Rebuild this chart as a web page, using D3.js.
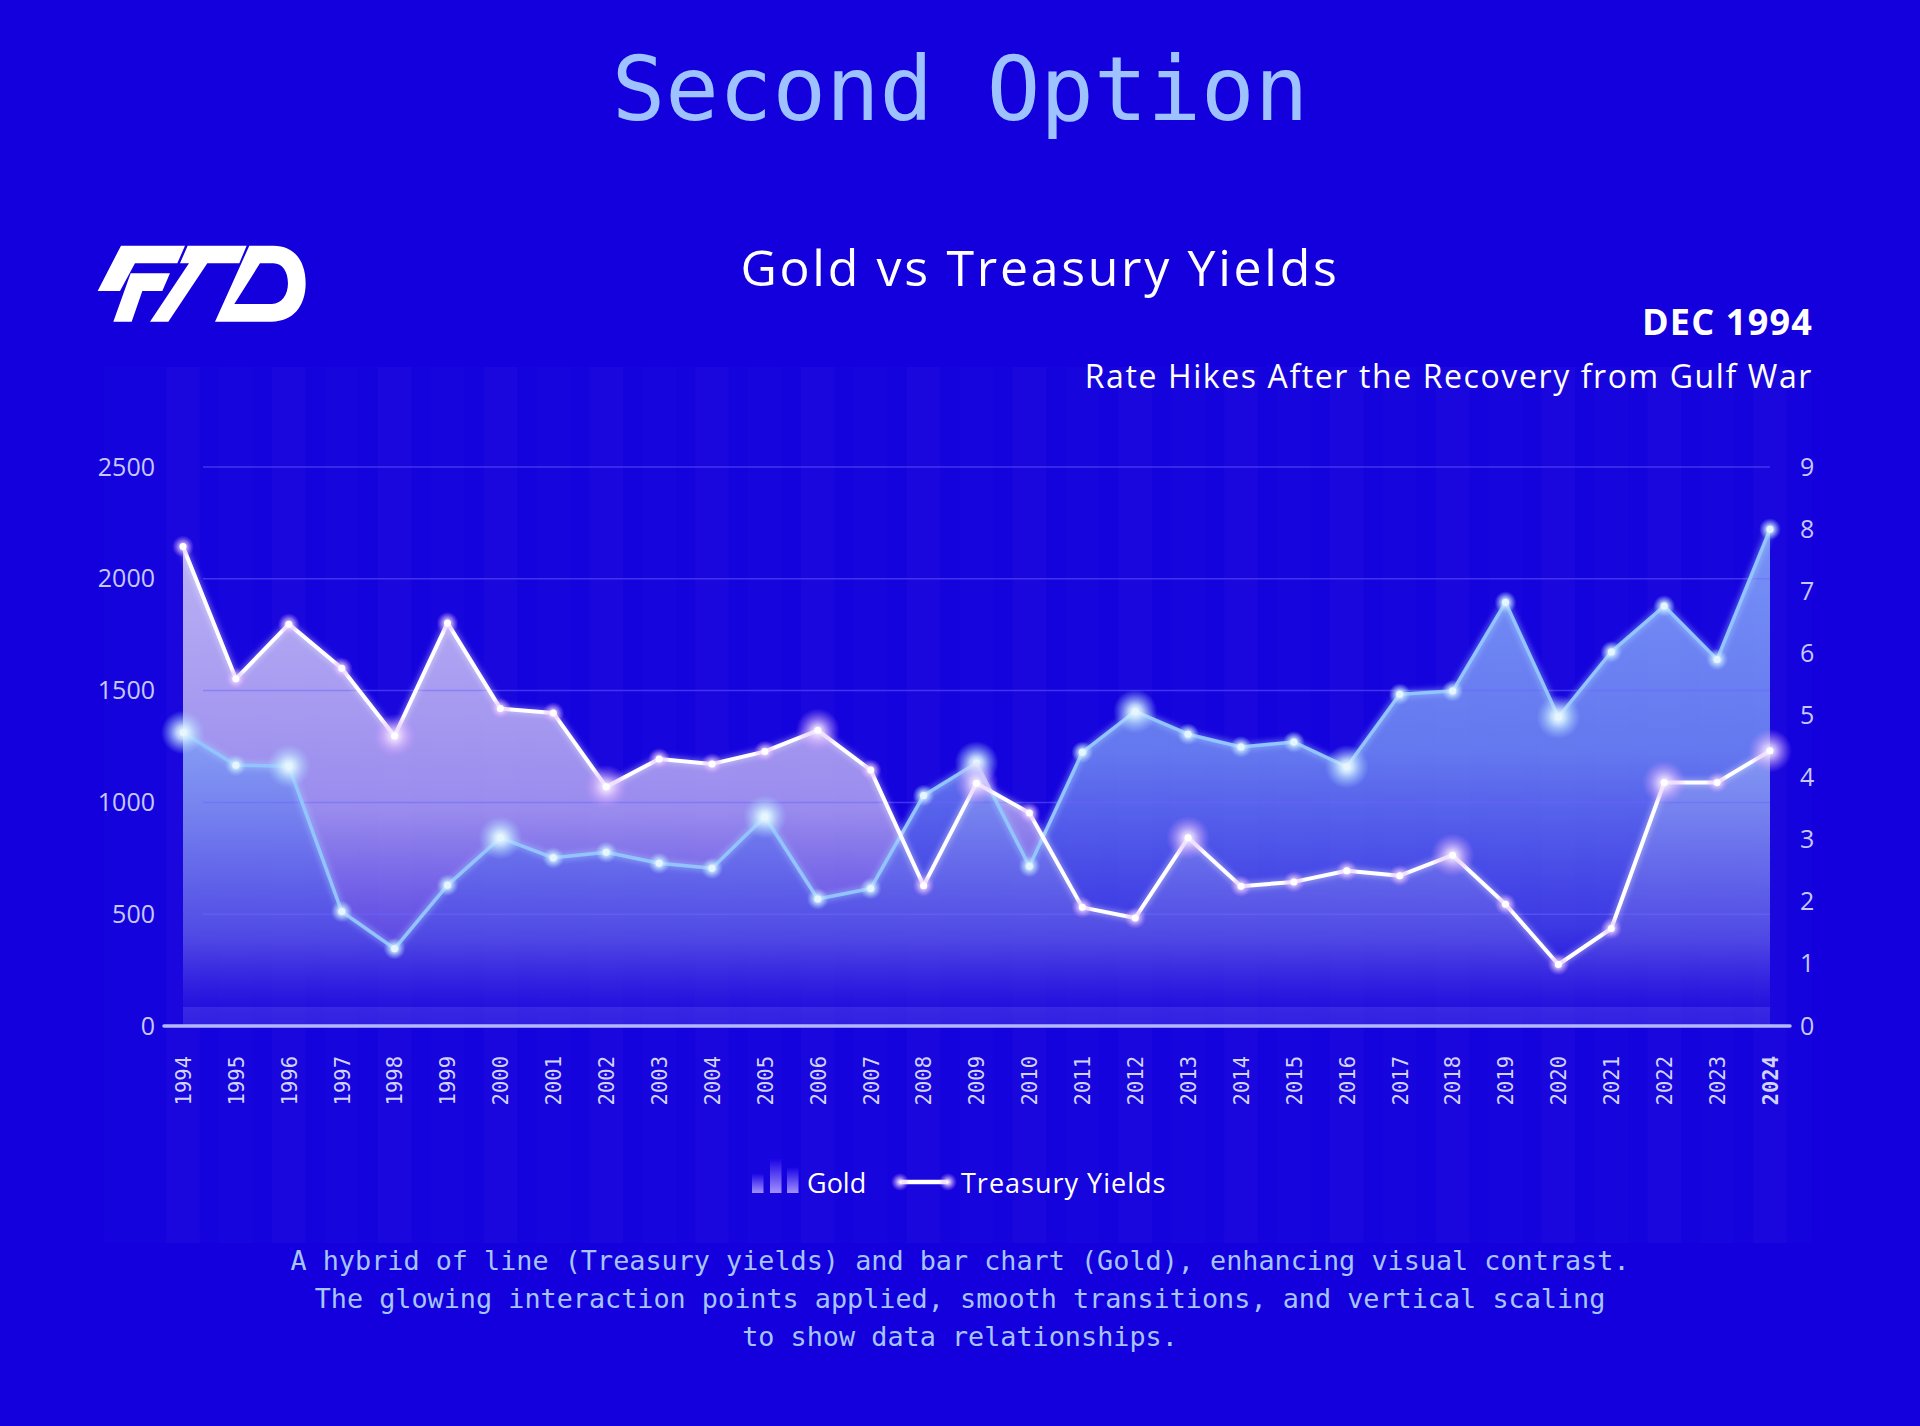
<!DOCTYPE html>
<html>
<head>
<meta charset="utf-8">
<script src="https://cdnjs.cloudflare.com/ajax/libs/d3/7.8.5/d3.min.js"></script>
<style>
  html, body { margin: 0; padding: 0; background: #1300dd; }
  svg { display: block; }
</style>
</head>
<body>
<div id="chart"></div>
<script>
// chart data
var years = d3.range(1994, 2025);
var gold = [1313, 1166, 1162, 512, 346, 630, 842, 752, 777, 728, 705, 936, 568, 615, 1031,
            1176, 714, 1224, 1407, 1305, 1248, 1270, 1159, 1484, 1498, 1895, 1382, 1673, 1878, 1639, 2222];
var yields = [7.72, 5.59, 6.47, 5.76, 4.67, 6.49, 5.11, 5.04, 3.85, 4.30, 4.22, 4.42, 4.76, 4.12, 2.26,
              3.91, 3.43, 1.91, 1.74, 3.03, 2.25, 2.32, 2.50, 2.42, 2.75, 1.96, 0.99, 1.57, 3.92, 3.92, 4.43];
var goldTicks = [0, 500, 1000, 1500, 2000, 2500];
var yieldTicks = [0, 1, 2, 3, 4, 5, 6, 7, 8, 9];
// points that carry the bigger glow
var goldHighlights = [1994, 1996, 2000, 2005, 2009, 2012, 2016, 2020];
var yieldHighlights = [1998, 2002, 2006, 2009, 2013, 2018, 2022, 2024];

var W = 1920, H = 1426;
var svg = d3.select("#chart").append("svg")
  .attr("width", W).attr("height", H);

var defs = svg.append("defs");

function linGrad(id, stops) {
  var g = defs.append("linearGradient").attr("id", id)
    .attr("x1", 0).attr("y1", 0).attr("x2", 0).attr("y2", 1);
  stops.forEach(function(s) {
    g.append("stop").attr("offset", s[0]).attr("stop-color", s[1]).attr("stop-opacity", s[2]);
  });
}
function radGrad(id, stops) {
  var g = defs.append("radialGradient").attr("id", id);
  stops.forEach(function(s) {
    g.append("stop").attr("offset", s[0]).attr("stop-color", s[1]).attr("stop-opacity", s[2]);
  });
}
linGrad("yieldFill", [["0%", "#c8c0f6", 0.92], ["55%", "#ab9ef0", 0.88], ["82%", "#7c68e6", 0.7], ["100%", "#2a12e0", 0.15]]);
linGrad("goldFill", [["0%", "#8cb0fc", 0.82], ["45%", "#7a98f4", 0.78], ["80%", "#4c4ee6", 0.7], ["100%", "#1e08dc", 0.3]]);
linGrad("legendBar", [["0%", "#1600e4", 1], ["100%", "#a290ff", 1]]);
radGrad("glowGold", [["0%", "#ffffff", 1], ["30%", "#d4f0ff", 0.85], ["100%", "#9ccaff", 0]]);
radGrad("glowYield", [["0%", "#ffffff", 1], ["30%", "#eed8ff", 0.75], ["100%", "#c88cff", 0]]);

var blur = defs.append("filter").attr("id", "soft").attr("x", "-20%").attr("y", "-20%")
  .attr("width", "140%").attr("height", "140%");
blur.append("feGaussianBlur").attr("stdDeviation", 2.5);

// scales
var x = d3.scalePoint().domain(years).range([183, 1770]);
var yGold = d3.scaleLinear().domain([0, 2500]).range([1026, 467]);
var yYield = d3.scaleLinear().domain([0, 9]).range([1026, 467]);
var step = x.step();

// background panel and faint year columns
svg.append("rect").attr("x", 104).attr("y", 367).attr("width", 1708).attr("height", 876)
  .attr("fill", "#ffffff").attr("opacity", 0.012);
svg.append("g").selectAll("rect").data(years).enter().append("rect")
  .attr("x", function(d) { return x(d) - step * 0.32; })
  .attr("y", 367)
  .attr("width", step * 0.64)
  .attr("height", 876)
  .attr("fill", "#ffffff")
  .attr("opacity", function(d, i) { return i % 2 ? 0.01 : 0.02; });

// title block
svg.append("text").attr("x", 960).attr("y", 120).attr("text-anchor", "middle")
  .style("font-family", "'DejaVu Sans Mono', monospace").style("font-size", "89px")
  .attr("fill", "#9ec2ff").text("Second Option");

svg.append("text").attr("x", 1040).attr("y", 286).attr("text-anchor", "middle")
  .style("font-family", "'Open Sans', sans-serif").style("font-size", "50px")
  .style("letter-spacing", "2.7px")
  .attr("fill", "#ffffff").text("Gold vs Treasury Yields");

svg.append("text").attr("x", 1813).attr("y", 335).attr("text-anchor", "end")
  .style("font-family", "'Open Sans', sans-serif").style("font-size", "36px").style("font-weight", 700)
  .style("letter-spacing", "1.2px")
  .attr("fill", "#ffffff").text("DEC 1994");

svg.append("text").attr("x", 1813).attr("y", 388).attr("text-anchor", "end")
  .style("font-family", "'Open Sans', sans-serif").style("font-size", "32px")
  .style("letter-spacing", "1.6px")
  .attr("fill", "#ffffff").text("Rate Hikes After the Recovery from Gulf War");

// logo
var logo = svg.append("g").attr("transform", "translate(60,220) scale(0.3333)").attr("fill", "#ffffff");
logo.append("path").attr("d", "M183,77 L375,77 L352,130 L225,130 L180,213 L113,213 Z");
logo.append("path").attr("d", "M212,160 L330,160 L307,213 L247,213 L215,305 L160,305 Z");
logo.append("path").attr("d", "M383,77 L560,77 L538,130 L442,130 L325,305 L270,305 L387,130 L360,130 Z");
logo.append("path").attr("fill-rule", "evenodd")
  .attr("d", "M568,77 L640,77 C705,77 737,125 737,190 C737,258 700,305 635,305 L465,305 Z " +
             "M600,130 L640,130 C668,130 684,156 684,190 C684,226 664,252 636,252 L523,252 Z");

// areas
var plot = svg.append("g");
plot.append("path").datum(yields)
  .attr("fill", "url(#yieldFill)")
  .attr("d", d3.area()
    .x(function(d, i) { return x(years[i]); })
    .y0(yYield(0)).y1(function(d) { return yYield(d); }));
plot.append("path").datum(gold)
  .attr("fill", "url(#goldFill)")
  .attr("d", d3.area()
    .x(function(d, i) { return x(years[i]); })
    .y0(yGold(0)).y1(function(d) { return yGold(d); }));

// strip along the base
plot.append("rect").attr("x", x(1994)).attr("y", 1007).attr("width", x(2024) - x(1994)).attr("height", 18)
  .attr("fill", "#a8a8ff").attr("opacity", 0.16);

// gridlines
plot.append("g").selectAll("line").data(goldTicks.slice(1)).enter().append("line")
  .attr("x1", x(1994) + 20).attr("x2", x(2024))
  .attr("y1", function(d) { return yGold(d); }).attr("y2", function(d) { return yGold(d); })
  .attr("stroke", "#6e64ff").attr("stroke-opacity", 0.5).attr("stroke-width", 1.5);

// lines
var goldLine = d3.line().x(function(d, i) { return x(years[i]); }).y(function(d) { return yGold(d); });
var yieldLine = d3.line().x(function(d, i) { return x(years[i]); }).y(function(d) { return yYield(d); });

plot.append("path").datum(gold).attr("d", goldLine).attr("fill", "none")
  .attr("stroke", "#a8d4ff").attr("stroke-width", 8).attr("stroke-opacity", 0.35).attr("filter", "url(#soft)");
plot.append("path").datum(gold).attr("d", goldLine).attr("fill", "none")
  .attr("stroke", "#92c4ff").attr("stroke-width", 3.5).attr("stroke-linejoin", "round");

plot.append("path").datum(yields).attr("d", yieldLine).attr("fill", "none")
  .attr("stroke", "#ffffff").attr("stroke-width", 8).attr("stroke-opacity", 0.3).attr("filter", "url(#soft)");
plot.append("path").datum(yields).attr("d", yieldLine).attr("fill", "none")
  .attr("stroke", "#ffffff").attr("stroke-width", 4).attr("stroke-linejoin", "round");

// glowing points
function points(data, yScale, highlights, glowId, core) {
  var g = plot.append("g");
  g.selectAll("circle.glow").data(data).enter().append("circle")
    .attr("class", "glow")
    .attr("cx", function(d, i) { return x(years[i]); })
    .attr("cy", function(d) { return yScale(d); })
    .attr("r", function(d, i) { return highlights.indexOf(years[i]) >= 0 ? 22 : 11; })
    .attr("fill", "url(#" + glowId + ")");
  g.selectAll("circle.core").data(data).enter().append("circle")
    .attr("class", "core")
    .attr("cx", function(d, i) { return x(years[i]); })
    .attr("cy", function(d) { return yScale(d); })
    .attr("r", 3.5)
    .attr("fill", core);
}
points(gold, yGold, goldHighlights, "glowGold", "#e6f6ff");
points(yields, yYield, yieldHighlights, "glowYield", "#ffffff");

// axes
var tickFont = "'Open Sans', sans-serif";
var leftAxis = svg.append("g").attr("transform", "translate(164,0)")
  .call(d3.axisLeft(yGold).tickValues(goldTicks).tickFormat(d3.format("d")).tickSize(0).tickPadding(9));
var rightAxis = svg.append("g").attr("transform", "translate(1790,0)")
  .call(d3.axisRight(yYield).tickValues(yieldTicks).tickFormat(d3.format("d")).tickSize(0).tickPadding(10));
[leftAxis, rightAxis].forEach(function(a) {
  a.select(".domain").remove();
  a.selectAll("text").style("font-family", tickFont).style("font-size", "25px").attr("fill", "#c6c8ff");
});

var bottomAxis = svg.append("g").attr("transform", "translate(0,1026)")
  .call(d3.axisBottom(x).tickSize(0));
bottomAxis.select(".domain").remove();
bottomAxis.selectAll("text")
  .attr("transform", "rotate(-90)")
  .attr("x", -30).attr("y", 0).attr("dy", "0.36em")
  .style("text-anchor", "end")
  .style("font-family", "'DejaVu Sans Mono', monospace").style("font-size", "20.5px")
  .style("font-weight", function(d) { return d === 2024 ? 700 : 400; })
  .attr("fill", "#d2d4ff");

svg.append("line").attr("x1", 164).attr("x2", 1790).attr("y1", 1026).attr("y2", 1026)
  .attr("stroke", "#b4b8ff").attr("stroke-width", 3.5).attr("stroke-linecap", "round");

// legend
var legend = svg.append("g");
var legendBars = [{ x: 752, h: 20 }, { x: 770, h: 35 }, { x: 787, h: 26 }];
legend.selectAll("rect").data(legendBars).enter().append("rect")
  .attr("x", function(d) { return d.x; }).attr("y", function(d) { return 1193 - d.h; })
  .attr("width", 11.5).attr("height", function(d) { return d.h; })
  .attr("fill", "url(#legendBar)");
legend.append("text").attr("x", 807).attr("y", 1193)
  .style("font-family", "'Open Sans', sans-serif").style("font-size", "27px")
  .attr("fill", "#ffffff").text("Gold");
legend.append("line").attr("x1", 900).attr("x2", 948).attr("y1", 1182).attr("y2", 1182)
  .attr("stroke", "#ffffff").attr("stroke-width", 10).attr("stroke-opacity", 0.3).attr("filter", "url(#soft)");
legend.append("line").attr("x1", 900).attr("x2", 948).attr("y1", 1182).attr("y2", 1182)
  .attr("stroke", "#ffffff").attr("stroke-width", 4.5);
[900, 948].forEach(function(cx) {
  legend.append("circle").attr("cx", cx).attr("cy", 1182).attr("r", 9).attr("fill", "url(#glowYield)");
});
legend.append("text").attr("x", 961).attr("y", 1193)
  .style("font-family", "'Open Sans', sans-serif").style("font-size", "27px")
  .style("letter-spacing", "1px")
  .attr("fill", "#ffffff").text("Treasury Yields");

// caption
var caption = [
  "A hybrid of line (Treasury yields) and bar chart (Gold), enhancing visual contrast.",
  "The glowing interaction points applied, smooth transitions, and vertical scaling",
  "to show data relationships."
];
svg.append("g").selectAll("text").data(caption).enter().append("text")
  .attr("x", 960).attr("y", function(d, i) { return 1270 + i * 38; })
  .attr("text-anchor", "middle")
  .style("font-family", "'DejaVu Sans Mono', monospace").style("font-size", "26.8px")
  .attr("fill", "#a6c4ff")
  .text(function(d) { return d; });
</script>
</body>
</html>
